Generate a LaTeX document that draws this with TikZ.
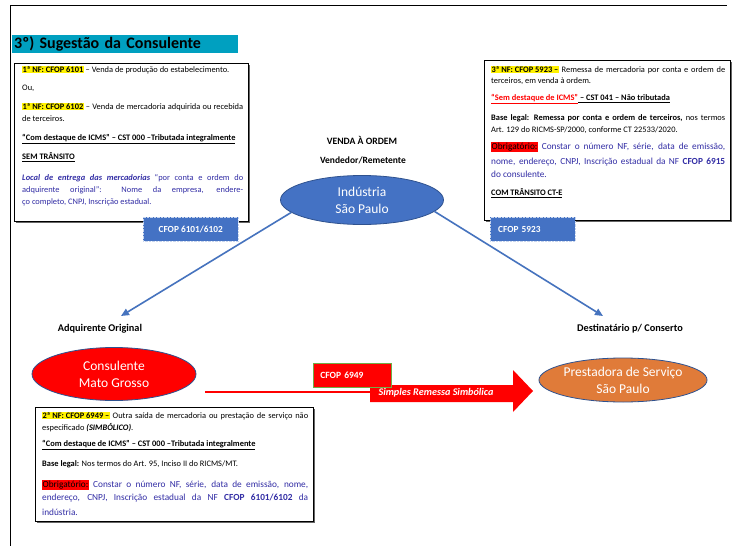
\documentclass[tikz,border=0pt]{standalone}
\usepackage{fontspec}
\setmainfont{Carlito}
\usetikzlibrary{shapes.geometric,arrows.meta}
\definecolor{indblue}{RGB}{68,114,196}
\definecolor{edgeblue}{RGB}{47,82,143}
\definecolor{tblue}{RGB}{50,45,165}
\definecolor{orng}{RGB}{224,123,57}
\definecolor{titlecyan}{RGB}{0,160,192}
\definecolor{lnblue}{RGB}{70,115,190}
\definecolor{okgreen}{RGB}{112,173,71}
\newcommand\hlt[1]{{\setlength\fboxsep{0.5pt}\colorbox{yellow}{#1}}}
\newcommand\rbg[1]{{\setlength\fboxsep{0.5pt}\colorbox{red}{#1}}}
\begin{document}
\begin{tikzpicture}[x=1pt,y=-1pt,
  tx/.style={anchor=west,inner sep=0pt,font=\fontsize{8.4}{9}\selectfont},
  txb/.style={anchor=west,inner sep=0pt,font=\fontsize{9.3}{10}\selectfont},
  infobox/.style={draw=black,line width=0.7pt,fill=white},
  shadowbox/.style={fill=black!60},
  cfop/.style={fill=indblue,draw=white!70!indblue,densely dotted,text=white,
    font=\fontsize{9.3}{10}\selectfont\bfseries,minimum height=24,inner ysep=0pt},
  ell/.style={ellipse,draw=edgeblue,line width=0.8pt,text=white,align=center,
    font=\fontsize{13.5}{17}\selectfont,inner sep=0pt},
  lbl/.style={font=\fontsize{10.3}{11}\selectfont\bfseries,inner sep=0pt},
  conn/.style={draw=lnblue,line width=1.6pt,-{Triangle[length=8pt,width=7pt]}}]
\useasboundingbox (0,0) rectangle (737,546);
\fill[white] (0,0) rectangle (737,546);
% frame
\draw[line width=0.8pt] (10,546) -- (10,5) -- (727,5);
% title
\node[fill=titlecyan,anchor=west,text width=222,inner xsep=2,inner ysep=0,
  minimum height=18,font=\fontsize{16}{17}\selectfont\bfseries] (title) at (12,44)
  {3º) Sugestão da Consulente};
% left box
\fill[shadowbox] (15.5,64.5) rectangle (249.5,222.5);
\draw[infobox] (14,63) rectangle (248,221);
\node[tx] (l1) at (22,70) {\hlt{\textbf{1ª NF: CFOP 6101}} – Venda de produção do estabelecimento.};
\node[tx] (l2) at (22,88) {Ou,};
\node[tx] (l3) at (22,107) {\makebox[221pt][s]{\hlt{\textbf{1ª NF: CFOP 6102}} – Venda de mercadoria adquirida ou recebida}};
\node[tx] (l4) at (22,119) {de terceiros.};
\node[tx] (l5) at (22,139) {\textbf{\underline{“Com destaque de ICMS” – CST 000 –Tributada integralmente}}};
\node[tx] (l6) at (22,157) {\textbf{\underline{SEM TRÂNSITO}}};
\node[tx,text=tblue] (l7) at (22,178) {\makebox[221pt][s]{\textbf{\textit{Local de entrega das mercadorias}} “por conta e ordem do}};
\node[tx,text=tblue] (l8) at (22,190) {\makebox[221pt][s]{adquirente original”: Nome da empresa, endere-}};
\node[tx,text=tblue] (l9) at (22,202) {ço completo, CNPJ, Inscrição estadual.};
\node[cfop,minimum width=95,anchor=north west] (c1) at (143,217) {CFOP 6101/6102};
% right box
\fill[shadowbox] (485.5,61.5) rectangle (731.5,221.5);
\draw[infobox] (484,60) rectangle (730,220);
\node[tx] (r1) at (491,70) {\makebox[234pt][s]{\hlt{\textbf{3ª NF: CFOP 5923 –}} Remessa de mercadoria por conta e ordem de}};
\node[tx] (r2) at (491,81) {terceiros, em venda à ordem.};
\node[tx] (r3) at (491,99) {\textcolor{red}{\textbf{\underline{“Sem destaque de ICMS”}}}\textbf{\underline{ – CST 041 – Não tributada}}};
\node[tx] (r4) at (491,118) {\makebox[234pt][s]{\textbf{Base legal: Remessa por conta e ordem de terceiros,} nos termos}};
\node[tx] (r5) at (491,130) {Art. 129 do RICMS-SP/2000, conforme CT 22533/2020.};
\node[txb] (r6) at (491,147) {\makebox[234pt][s]{\rbg{Obrigatório:} \textcolor{tblue}{Constar o número NF, série, data de emissão,}}};
\node[txb,text=tblue] (r7) at (491,162) {\makebox[234pt][s]{nome, endereço, CNPJ, Inscrição estadual da NF \textbf{CFOP 6915}}};
\node[txb,text=tblue] (r8) at (491,174) {do consulente.};
\node[tx] (r9) at (491,193) {\textbf{\underline{COM TRÂNSITO CT-E}}};
\node[cfop,minimum width=85,text width=69,inner xsep=8,align=left,anchor=north west] (c2) at (490,217) {CFOP 5923};
% centre
\node[lbl,font=\fontsize{9.7}{11}\selectfont\bfseries] (vo) at (362,140) {VENDA À ORDEM};
\node[lbl,font=\fontsize{9.5}{11}\selectfont\bfseries] (vr) at (363,160) {Vendedor/Remetente};
\node[ell,fill=indblue,minimum width=163,minimum height=49] (ind) at (362,200) {Indústria\\São Paulo};
\node[lbl] (adq) at (100,329) {Adquirente Original};
\node[lbl] (dst) at (630,329) {Destinatário p/ Conserto};
\coordinate (aE) at (121,316);
\coordinate (dE) at (603,316);
\draw[conn] (ind.190) -- (aE);
\draw[conn] (ind.-9) -- (dE);
% lower ellipses
\node[ell,fill=red,minimum width=164,minimum height=53] (cons) at (114,374) {Consulente\\Mato Grosso};
\node[ell,fill=orng,minimum width=161,minimum height=44] (prest) at (623,380) {Prestadora de Serviço\\São Paulo};
% red arrow
\coordinate (rs) at (205,392);
\coordinate (rt) at (370,392);
\draw[red,line width=2.2pt] (rs) -- (rt);
\fill[red] (370,385) -- (513,385) -- (513,370) -- (533,391) -- (513,412) -- (513,402) -- (370,402) -- cycle;
\node[fill=red,draw=okgreen,line width=0.6pt,anchor=north west,minimum width=78,minimum height=24,
  text width=64,inner xsep=7,align=left,text=white,font=\fontsize{9.5}{10}\selectfont\bfseries] (c3) at (313,363) {CFOP 6949};
\node[text=white,font=\fontsize{10.2}{11}\selectfont\bfseries\itshape,inner sep=0pt] (sr) at (436,393) {Simples Remessa Simbólica};
% bottom box
\fill[shadowbox] (36.5,408.5) rectangle (314.5,522.5);
\draw[infobox] (35,407) rectangle (313,521);
\node[tx] (b1) at (42,416) {\makebox[266pt][s]{\hlt{\textbf{2ª NF: CFOP 6949 –}} Outra saída de mercadoria ou prestação de serviço não}};
\node[tx] (b2) at (42,428) {especificado \textbf{\textit{(SIMBÓLICO)}}.};
\node[tx] (b3) at (42,445) {\textbf{\underline{“Com destaque de ICMS” – CST 000 –Tributada integralmente}}};
\node[tx] (b4) at (42,464) {\textbf{Base legal:} Nos termos do Art. 95, Inciso II do RICMS/MT.};
\node[txb] (b5) at (42,485) {\makebox[266pt][s]{\rbg{Obrigatório:} \textcolor{tblue}{Constar o número NF, série, data de emissão, nome,}}};
\node[txb,text=tblue] (b6) at (42,498) {\makebox[266pt][s]{endereço, CNPJ, Inscrição estadual da NF \textbf{CFOP 6101/6102} da}};
\node[txb,text=tblue] (b7) at (42,512) {indústria.};
\end{tikzpicture}
\end{document}
